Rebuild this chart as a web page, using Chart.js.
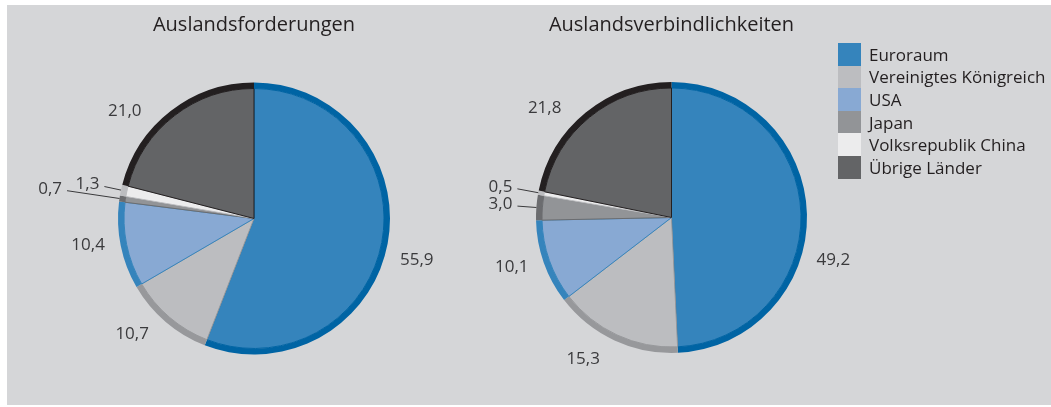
<!DOCTYPE html>
<html lang="de">
<head>
<meta charset="UTF-8">
<title>Auslandsforderungen und Auslandsverbindlichkeiten</title>
<script src="https://cdn.jsdelivr.net/npm/chart.js@4.4.1/dist/chart.umd.min.js"></script>
<style>
    html, body { margin: 0; padding: 0; background: #fff; }
    body { width: 1051px; height: 407px; position: relative; overflow: hidden; font-family: "Open Sans", sans-serif; }
    .panel { position: absolute; left: 7px; top: 5px; width: 1044px; height: 400px; background: #d5d6d8; }
    canvas { position: absolute; }
    #left { left: 0; top: 0; }
    #right { left: 474px; top: 0; }
    #legend { position: absolute; left: 831px; top: 38px; }
    .row { height: 22.6px; display: flex; align-items: center; }
    .box { width: 23px; height: 22.6px; margin-right: 8px; }
    .row span { font-size: 17px; color: #231f20; white-space: nowrap; }
</style>
</head>
<body>
<div class="panel">
    <canvas id="left" width="494" height="400"></canvas>
    <canvas id="right" width="381" height="400"></canvas>
    <div id="legend"></div>
</div>

<script>
    // Anteile in %
    var regions = ['Euroraum', 'Vereinigtes Königreich', 'USA', 'Japan', 'Volksrepublik China', 'Übrige Länder'];
    var forderungen = [55.9, 10.7, 10.4, 0.7, 1.3, 21.0];
    var verbindlichkeiten = [49.2, 15.3, 10.1, 3.0, 0.5, 21.8];

    var fillColors = ['#3584bc', '#bcbdc0', '#88a9d3', '#929497', '#ececed', '#636466'];
    var rimColors = ['#0064a4', '#97989b', '#3584bc', '#6b6c6f', '#bcbdc0', '#231f20'];

    // labels outside the pie, leader lines for the thin slices
    var sliceLabels = {
        id: 'sliceLabels',
        afterDatasetsDraw: function(chart, args, opts) {
            var ctx = chart.ctx;
            var arcs = chart.getDatasetMeta(0).data;
            var values = chart.data.datasets[1].data;
            ctx.save();
            ctx.font = '17px "Open Sans"';
            ctx.fillStyle = '#3a3a3c';
            ctx.strokeStyle = '#3a3a3c';
            ctx.lineWidth = 1;
            ctx.textBaseline = 'middle';
            arcs.forEach(function(arc, i) {
                var R = arc.outerRadius;
                var mid = (arc.startAngle + arc.endAngle) / 2;
                var text = values[i].toFixed(1).replace('.', ',');
                var lead = opts.leader[i];
                if (lead) {
                    var x0 = arc.x + R * Math.cos(mid), y0 = arc.y + R * Math.sin(mid);
                    var x1 = arc.x + R * lead * Math.cos(mid), y1 = arc.y + R * lead * Math.sin(mid);
                    ctx.beginPath();
                    ctx.moveTo(x1, y1);
                    ctx.lineTo(x0, y0);
                    ctx.stroke();
                    ctx.textAlign = 'right';
                    ctx.fillText(text, x1 - 5, y1 - 2);
                } else {
                    var a = mid + opts.nudge[i] * Math.PI / 180;
                    var r = R * opts.dist;
                    ctx.textAlign = 'center';
                    ctx.fillText(text, arc.x + r * Math.cos(a), arc.y + r * Math.sin(a));
                }
            });
            ctx.restore();
        }
    };

    function makePie(id, title, values, radius, padBottom, labelOpts) {
        return new Chart(document.getElementById(id), {
            type: 'pie',
            data: {
                labels: regions,
                datasets: [
                    { data: values, backgroundColor: rimColors, borderWidth: 0, weight: 6 },
                    { data: values, backgroundColor: fillColors, borderColor: rimColors, borderWidth: 1, weight: radius - 6 }
                ]
            },
            options: {
                responsive: false,
                animation: false,
                events: [],
                radius: radius,
                layout: { padding: { bottom: padBottom } },
                plugins: {
                    legend: { display: false },
                    tooltip: { enabled: false },
                    title: {
                        display: true,
                        text: title,
                        color: '#231f20',
                        font: { family: 'Open Sans', size: 20, weight: 'normal' },
                        padding: { top: 8, bottom: 0 }
                    },
                    sliceLabels: labelOpts
                }
            },
            plugins: [sliceLabels]
        });
    }

    makePie('left', 'Auslandsforderungen', forderungen, 136, 5, {
        dist: 1.235,
        nudge: [3.7, 6, 2.5, 0, 0, -12.5],
        leader: [0, 0, 0, 1.39, 1.125, 0]
    });
    makePie('right', 'Auslandsverbindlichkeiten', verbindlichkeiten, 135.5, 7, {
        dist: 1.235,
        nudge: [16, 7, 2, 0, 0, -10],
        leader: [0, 0, 0, 1.14, 1.157, 0]
    });

    var legend = document.getElementById('legend');
    regions.forEach(function(name, i) {
        var row = document.createElement('div');
        row.className = 'row';
        row.innerHTML = '<div class="box" style="background:' + fillColors[i] + '"></div><span>' + name + '</span>';
        legend.appendChild(row);
    });
</script>
</body>
</html>
